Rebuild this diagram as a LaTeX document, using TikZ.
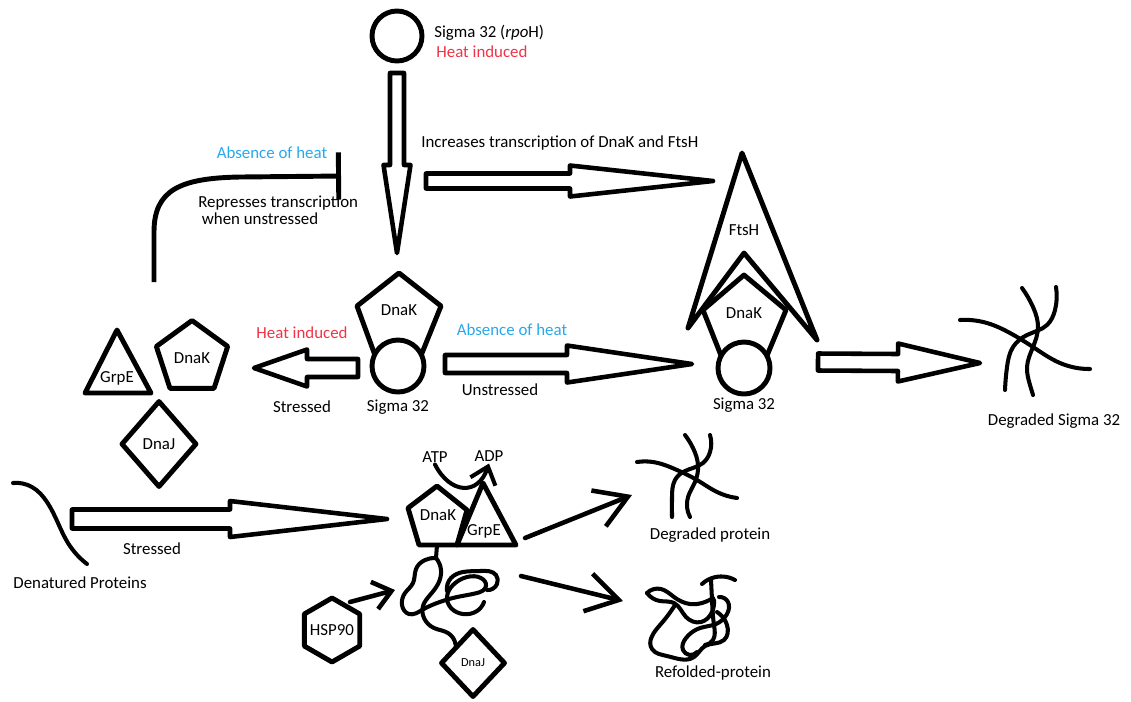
\documentclass[tikz,border=0pt]{standalone}
\usepackage{fontspec}
\setmainfont{Carlito}
\usetikzlibrary{calc,hobby,shapes.geometric,arrows.meta}
\definecolor{heatred}{RGB}{238,52,72}
\definecolor{coolblue}{RGB}{40,168,235}
\newcommand\pxu{0.02cm}
% hollow block arrow: tail, tip, head length, shaft half width, head half width
\newcommand\fatarrow[5]{%
  \draw[fat] ($(#1)!#4*\pxu!90:(#2)$)
    -- ($($(#2)!#3*\pxu!(#1)$)!#4*\pxu!90:(#2)$)
    -- ($($(#2)!#3*\pxu!(#1)$)!#5*\pxu!90:(#2)$)
    -- (#2)
    -- ($($(#2)!#3*\pxu!(#1)$)!#5*\pxu!-90:(#2)$)
    -- ($($(#2)!#3*\pxu!(#1)$)!#4*\pxu!-90:(#2)$)
    -- ($(#1)!#4*\pxu!-90:(#2)$) -- cycle;}
\tikzset{
  every node/.style={font=\fontsize{9.6}{11}\selectfont},
  outline/.style={draw,line width=2.8pt,line join=round},
  fat/.style={draw,line width=2.6pt,line join=round,fill=white},
  squiggle/.style={line width=2.3pt,line cap=round,line join=round},
  barb/.style={line width=2.6pt,line cap=round,-{Straight Barb[length=18pt,width=22pt]}},
  hot/.style={text=heatred},
  cold/.style={text=coolblue},
  sigma/.style={circle,outline,fill=white,inner sep=0pt,minimum size=1.04cm},
}

\begin{document}
\begin{tikzpicture}[x=0.02cm,y=-0.02cm]
\useasboundingbox (0,0) rectangle (1131,701);

\node[sigma,minimum size=1cm] (sig) at (397,36) {};
\node[anchor=west,inner sep=0pt] (sigtxt) at (434,33) {Sigma 32 (\textit{rpo}H)};
\node[anchor=west,inner sep=0pt,hot] (sigheat) at (436,52) {Heat induced};

\coordinate (downA) at (397,73);
\coordinate (downB) at (397,253);
\fatarrow{downA}{downB}{88}{7}{13.5}
\coordinate (incA) at (426,181);
\coordinate (incB) at (713,181);
\fatarrow{incA}{incB}{143}{7.5}{15.5}
\node[anchor=west,inner sep=0pt] (inctxt) at (421,143) {Increases transcription of DnaK and FtsH};

\coordinate (repA) at (154,282);
\coordinate (repB) at (341,176);
\draw[line width=2.8pt,-{Bar[width=27pt]}] (repA) -- (154,232) .. controls (154,190) and (180,178) .. (240,177) -- (repB);
\node[cold] (abs1) at (272,153) {Absence of heat};
\node[align=left,anchor=west,inner sep=0pt,font=\fontsize{9.6}{9.7}\selectfont] (reptxt) at (198,210) {Represses\ transcription\\\hspace{2pt}when unstressed};

\draw[outline] (399,273) -- (441,306) -- (420,358) -- (376,358) -- (357,306) -- cycle;
\node[sigma] (sigC) at (398,366) {};
\node (dnakC) at (399,310) {DnaK};
\node (sigCtxt) at (398,407) {Sigma 32};

\coordinate (leftA) at (358,368);
\coordinate (leftB) at (254,368);
\fatarrow{leftA}{leftB}{53}{9}{18.5}
\node[hot] (heatL) at (302,333) {Heat induced};
\node (stressL) at (302,407) {Stressed};

\draw[outline] (117,330) -- (151,393) -- (85,393) -- cycle;
\node (grpeL) at (117,378) {GrpE};
\node[outline,regular polygon,regular polygon sides=5,minimum size=1.5cm,inner sep=0pt] (dnakL) at (192,358) {DnaK};
\node[outline,diamond,minimum width=1.52cm,minimum height=1.74cm,inner sep=0pt] (dnajL) at (159,444) {DnaJ};

\coordinate (absA) at (445,364);
\coordinate (absB) at (692,364);
\fatarrow{absA}{absB}{125}{9}{18.5}
\node[cold] (abs2) at (512,330) {Absence of heat};
\node (unstr) at (500,390) {Unstressed};

\draw[outline] (742,153) -- (817,340) -- (744,253) -- (688,328) -- cycle;
\node (ftsh) at (744,230) {FtsH};
\draw[outline,fill=white] (744,275) -- (786,310) -- (766,358) -- (722,358) -- (703,310) -- cycle;
\node[sigma] (sigR) at (744,368) {};
\node (dnakR) at (744,313) {DnaK};
\node (sigRtxt) at (744,405) {Sigma 32};

\coordinate (degA) at (818,362);
\coordinate (degB) at (980,363);
\fatarrow{degA}{degB}{82}{8.5}{19}
\node (degsig) at (1054,421) {Degraded Sigma 32};

\coordinate (strA) at (72,519);
\coordinate (strB) at (387,519);
\fatarrow{strA}{strB}{157}{9.5}{18}
\node (denat) at (80,583) {Denatured Proteins};
\node (stressB) at (152,549) {Stressed};

\draw[outline] (437,486) -- (467,510) -- (457,545) -- (419,545) -- (408,508) -- cycle;
\draw[outline,fill=white] (483,483) -- (516,545) -- (457,545) -- cycle;
\node (dnakM) at (438,515) {DnaK};
\node (grpeM) at (484,531) {GrpE};
\node[inner sep=1pt] (atp) at (435,457) {ATP};
\node[inner sep=1pt] (adp) at (489,456) {ADP};
\draw[line width=2.3pt,line cap=round,-{Straight Barb[length=9pt,width=15pt]}] (atp.south) .. controls (450,494) and (478,496) .. (adp.south);

\coordinate (outA) at (525,538);
\coordinate (outB) at (632,495);
\draw[barb] (outA) -- (outB);
\coordinate (refA) at (521,576);
\coordinate (refB) at (623,601);
\draw[barb] (refA) -- (refB);
\node (degprot) at (710,535) {Degraded protein};
\node (refprot) at (713,673) {Refolded-protein};

\node[inner sep=0pt] (hsp) at (332,630) {HSP90};
\draw[outline] (hsp.center) +(90:32) -- +(30:32) -- +(-30:32) -- +(-90:32) -- +(-150:32) -- +(150:32) -- cycle;
\coordinate (hspA) at (350,602);
\coordinate (hspB) at (395,590);
\draw[line width=2.6pt,line cap=round,-{Straight Barb[length=10pt,width=16pt]}] (hspA) -- (hspB);

\node[outline,diamond,minimum width=1.3cm,minimum height=1.38cm,inner sep=0pt,font=\fontsize{7}{8}\selectfont] (dnajM) at (473,663) {DnaJ};

\draw[squiggle] (437,545) -- (436,558);
\begin{scope}[use Hobby shortcut]
\draw[squiggle] (436,558) .. (425,560) .. (416,569) .. (413,583) .. (405,593) .. (402,605) .. (409,614) .. (422,610) .. (437,603) .. (457,597) .. (477,593) .. (486,586) .. (481,578) .. (467,577) .. (453,585) .. (447,597) .. (451,608) .. (463,614) .. (477,611) .. (484,602);
\draw[squiggle] (447,591) .. (451,578) .. (463,572) .. (480,571) .. (496,575) .. (497,584) .. (487,590);
\draw[squiggle] (436,558) .. (441,570) .. (438,584) .. (430,595) .. (423,606) .. (424,618) .. (434,628) .. (448,633) .. (dnajM.north west);

\draw[squiggle] (960,320) .. (987,323) .. (1010,333) .. (1033,347) .. (1060,363) .. (1090,369);
\draw[squiggle] (1022,288) .. (1033,307) .. (1038,327) .. (1033,347) .. (1027,367) .. (1030,385) .. (1033,395);
\draw[squiggle] (1056,287) .. (1055,310) .. (1047,325) .. (1027,335) .. (1013,347) .. (1007,367) .. (1005,390);

\draw[squiggle] (13,483) .. (32,487) .. (47,502) .. (58,523) .. (68,543) .. (87,564);

\draw[squiggle] (637,462) .. (653,462) .. (677,470) .. (697,480) .. (717,492) .. (737,498);
\draw[squiggle] (685,435) .. (693,448) .. (698,465) .. (695,482) .. (688,497) .. (690,517);
\draw[squiggle] (710,435) .. (710,452) .. (703,463) .. (683,472) .. (675,480) .. (672,497) .. (672,517);

\draw[squiggle] (647,593) .. (661,589) .. (674,597) .. (690,604) .. (705,602) .. (713,598);
\draw[squiggle] (647,593) .. (660,601) .. (674,603) .. (686,617) .. (701,622) .. (712,612) .. (714,600);
\draw[squiggle] (702,584) .. (712,578) .. (735,580);
\draw[squiggle] (711,580) .. (712,600) .. (714,625) .. (713,640) .. (705,645);
\draw[squiggle] (675,605) .. (660,625) .. (652,649) .. (667,656) .. (694,657) .. (705,646) .. (724,640) .. (727,625) .. (717,612);
\draw[squiggle] (719,597) .. (728,602) .. (727,614) .. (716,624) .. (700,628) .. (686,638) .. (683,650) .. (697,652);
\end{scope}
\end{tikzpicture}
\end{document}
